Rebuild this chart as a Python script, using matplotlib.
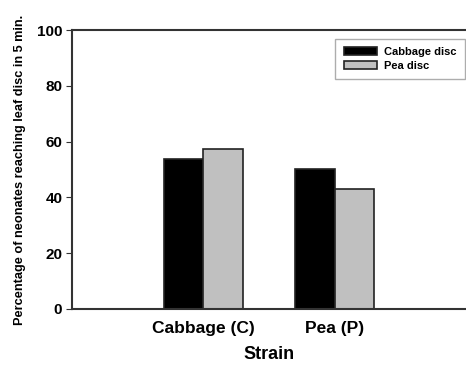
import matplotlib
matplotlib.use("Agg")
import matplotlib.pyplot as plt
import numpy as np

# strains tested and the disc offered
strains = ["Cabbage (C)", "Pea (P)"]
cabbage_disc = [53.6, 50.1]
pea_disc = [57.2, 42.9]

plt.rcParams['font.family'] = ['Liberation Sans', 'DejaVu Sans']
plt.rcParams['font.weight'] = 'bold'

fig = plt.figure(figsize=(4.66, 3.67), dpi=100)
ax = fig.add_axes([72 / 466, 58 / 367, 394 / 466, 279 / 367])

x = np.arange(1, len(strains) + 1)
w = 0.3
ax.bar(x - w / 2, cabbage_disc, w, color='black', edgecolor='#222222',
       linewidth=1.2, label='Cabbage disc')
ax.bar(x + w / 2, pea_disc, w, color='#c0c0c0', edgecolor='#222222',
       linewidth=1.2, label='Pea disc')

ax.set_xlim(0, 3)
ax.set_ylim(0, 100)
ax.set_yticks(np.arange(0, 101, 20))
ax.set_xticks(x)
ax.set_xticklabels(strains, fontsize=12.5, fontweight='bold')
ax.tick_params(axis='x', length=0, pad=9)
ax.tick_params(axis='y', direction='out', length=4, labelsize=11, pad=3,
               color='#333333')
for lbl in ax.get_yticklabels():
    lbl.set_fontweight('bold')

for side in ['left', 'bottom', 'top']:
    ax.spines[side].set_linewidth(1.5)
    ax.spines[side].set_color('#333333')
ax.spines['right'].set_visible(False)

ax.set_xlabel("Strain", fontsize=13, fontweight='bold', labelpad=7)
ax.set_ylabel("Percentage of neonates reaching leaf disc in 5 min.",
              fontsize=9.2, fontweight='bold', labelpad=8)

leg = ax.legend(loc='upper right', bbox_to_anchor=(1.005, 0.98),
                prop={'weight': 'bold', 'size': 8}, fancybox=False,
                handlelength=3.0, handleheight=0.75, borderpad=0.75,
                labelspacing=0.3, handletextpad=0.6, borderaxespad=0.3)
leg.get_frame().set_edgecolor('#999999')
leg.get_frame().set_linewidth(1.0)

fig.savefig("out.png", dpi=100)
